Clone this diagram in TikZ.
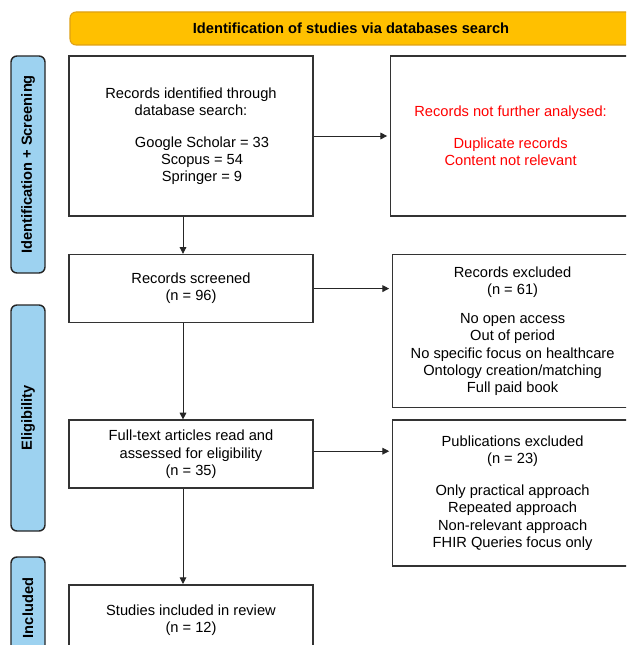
\documentclass[tikz,border=0pt]{standalone}
\usepackage{fontspec}
\setmainfont{Liberation Sans}
\usetikzlibrary{positioning,arrows.meta}
\definecolor{bannerfill}{RGB}{255,192,0}
\definecolor{bannerline}{RGB}{222,160,20}
\definecolor{phasefill}{RGB}{157,210,240}

\begin{document}
\begin{tikzpicture}[x=0.75pt,y=0.75pt,
	box/.style={rectangle, draw=black!80, line width=1.2pt, fill=white, align=center, minimum width=183pt, inner sep=0pt, font=\fontsize{11}{12.9}\selectfont},
	sidebox/.style={box, minimum width=180pt},
	phase/.style={rectangle, rounded corners=4.5pt, draw=black!85, line width=1.1pt, fill=phasefill, rotate=90, minimum height=25.5pt, inner sep=0pt, font=\bfseries\fontsize{11}{13}\selectfont},
	flow/.style={-{Triangle[length=5pt,width=5pt]}, draw=black!85, line width=0.7pt}]
		\useasboundingbox (0,0) rectangle (626,-645);
		\clip (0,0) rectangle (626,-645);
		\fill[white] (0,0) rectangle (626,-645);
		% banner and phase labels
		\node at (351,-28.5) [rectangle, rounded corners=4.5pt, fill=bannerfill, draw=bannerline, line width=0.8pt, minimum width=421.5pt, minimum height=24.75pt, font=\bfseries\fontsize{11}{13}\selectfont] (head) {Identification of studies via databases search};
		\node at (28,-164.5) [phase, minimum width=162.75pt] (phid) {Identification + Screening};
		\node at (28,-418) [phase, minimum width=169.5pt] (phel) {Eligibility};
		\node at (28,-608) [phase, minimum width=76.5pt] (phin) {Included};
		% main column
		\node at (191,-136) [box, minimum height=120pt] (ident) {Records identified through\\database search:\\[11pt]\hspace*{16.5pt}Google Scholar = 33\\\hspace*{16.5pt}Scopus = 54\\\hspace*{16.5pt}Springer = 9};
		\node[box, minimum height=51pt] (screen) [below=27.75pt of ident] {Records screened\\(n = 96)};
		\node[box, minimum height=51pt] (elig) [below=72pt of screen] {Full-text articles read and\\assessed for eligibility\\(n = 35)};
		\node[box, minimum height=52.5pt] (incl) [below=71.25pt of elig] {Studies included in review\\(n = 12)};
		% exclusions
		\node[sidebox, minimum height=120pt, text=red] (notana) [right=57pt of ident] {Records not further analysed:\\[11pt]Duplicate records\\Content not relevant};
		\node[sidebox, minimum height=114.75pt] (excl) [right=58.5pt of screen.north east, anchor=north west] {Records excluded\\(n = 61)\\[9pt]No open access\\Out of period\\No specific focus on healthcare\\Ontology creation/matching\\Full paid book};
		\node[sidebox, minimum height=109.5pt] (pubex) [right=58.5pt of elig.north east, anchor=north west] {Publications excluded\\(n = 23)\\[11pt]Only practical approach\\Repeated approach\\Non-relevant approach\\FHIR Queries focus only};
		\draw[flow] ([xshift=-6pt]ident.south) -- ([xshift=-6pt]screen.north);
		\draw[flow] ([xshift=-6pt]screen.south) -- ([xshift=-6pt]elig.north);
		\draw[flow] ([xshift=-6pt]elig.south) -- ([xshift=-6pt]incl.north);
		\draw[flow, shorten >=2pt] (ident.east) -- (notana.west);
		\draw[flow, shorten >=2pt] (screen.east) -- (screen.east -| excl.west);
		\draw[flow, shorten >=2pt] ([yshift=2.25pt]elig.east) -- ([yshift=2.25pt]elig.east -| pubex.west);
\end{tikzpicture}
\end{document}
